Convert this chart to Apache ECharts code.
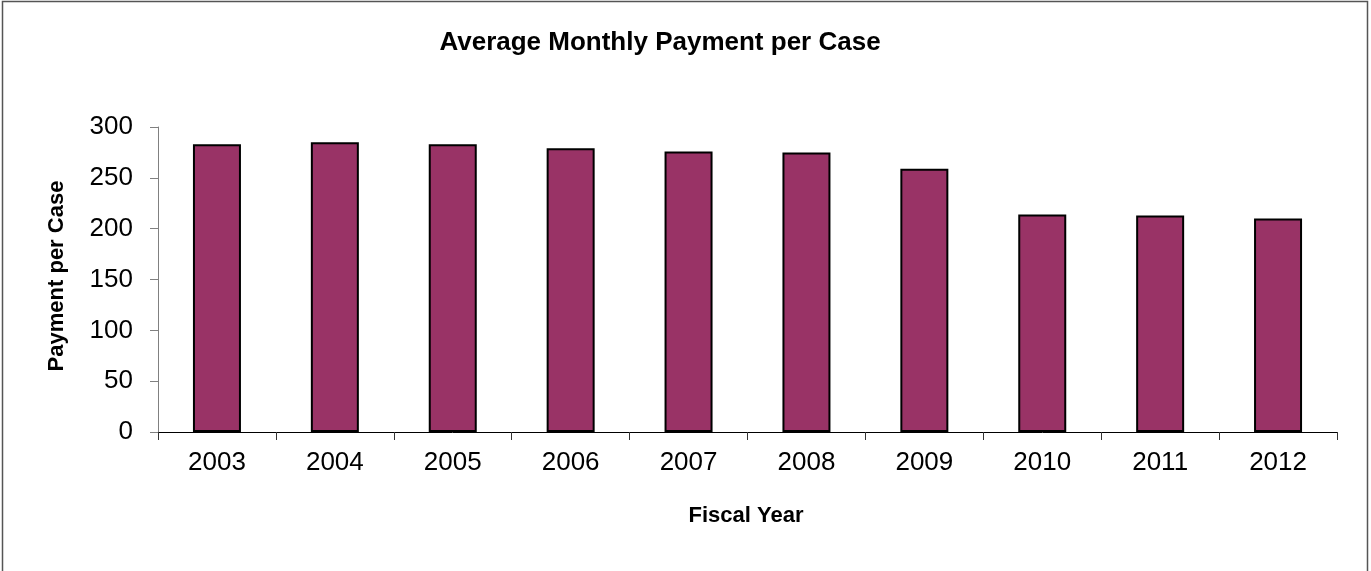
<!DOCTYPE html>
<html>
<head>
<meta charset="utf-8">
<title>Average Monthly Payment per Case</title>
<script src="https://cdn.jsdelivr.net/npm/echarts@6/dist/echarts.min.js"></script>
<style>
  html, body { margin: 0; padding: 0; background: #ffffff; }
  #chart { width: 1371px; height: 571px; }
</style>
</head>
<body>
<div id="chart"></div>
<script>
// Fiscal years shown along the category axis
const fiscalYears = ['2003', '2004', '2005', '2006', '2007', '2008', '2009', '2010', '2011', '2012'];
// Average monthly payment per case, in dollars
const paymentPerCase = [283, 285, 283, 279, 276, 275, 259, 214, 213, 210];
// Value axis ticks
const yTicks = [0, 50, 100, 150, 200, 250, 300];

const FONT = '"Liberation Sans", Arial, sans-serif';

const chart = echarts.init(document.getElementById('chart'), null, { renderer: 'canvas' });

chart.setOption({
  animation: false,
  backgroundColor: '#ffffff',
  textStyle: { fontFamily: FONT },
  grid: { left: 158, right: 34, top: 127, bottom: 139, containLabel: false },
  xAxis: {
    type: 'category',
    data: fiscalYears,
    boundaryGap: true,
    axisLine: { show: true, lineStyle: { color: '#000000', width: 1 } },
    axisTick: { show: true, alignWithLabel: false, inside: false, length: 8, lineStyle: { color: '#333333', width: 1 } },
    axisLabel: { color: '#000000', fontSize: 26, fontFamily: FONT, margin: 18 },
    splitLine: { show: false }
  },
  yAxis: {
    type: 'value',
    min: yTicks[0],
    max: yTicks[yTicks.length - 1],
    interval: yTicks[1] - yTicks[0],
    axisLine: { show: true, lineStyle: { color: '#808080', width: 1 } },
    axisTick: { show: true, inside: false, length: 8, lineStyle: { color: '#808080', width: 1 } },
    axisLabel: { color: '#000000', fontSize: 26, fontFamily: FONT, margin: 25 },
    splitLine: { show: false }
  },
  series: [{
    type: 'bar',
    data: paymentPerCase,
    barWidth: 48,
    itemStyle: { color: '#993366', borderColor: '#000000', borderWidth: 2 },
    emphasis: { disabled: true }
  }],
  graphic: [
    {
      type: 'rect',
      silent: true,
      shape: { x: 2.5, y: 1.5, width: 1365, height: 580 },
      style: { fill: 'none', stroke: '#555555', lineWidth: 1.5 },
      z: 100
    },
    {
      type: 'text',
      silent: true,
      x: 660, y: 43,
      style: {
        text: 'Average Monthly Payment per Case',
        fontFamily: FONT, fontSize: 26, fontWeight: 'bold', fill: '#000000',
        align: 'center', verticalAlign: 'middle'
      }
    },
    {
      type: 'text',
      silent: true,
      x: 57, y: 276,
      rotation: Math.PI / 2,
      style: {
        text: 'Payment per Case',
        fontFamily: FONT, fontSize: 22, fontWeight: 'bold', fill: '#000000',
        align: 'center', verticalAlign: 'middle'
      }
    },
    {
      type: 'text',
      silent: true,
      x: 746, y: 516,
      style: {
        text: 'Fiscal Year',
        fontFamily: FONT, fontSize: 22, fontWeight: 'bold', fill: '#000000',
        align: 'center', verticalAlign: 'middle'
      }
    }
  ]
});
</script>
</body>
</html>
